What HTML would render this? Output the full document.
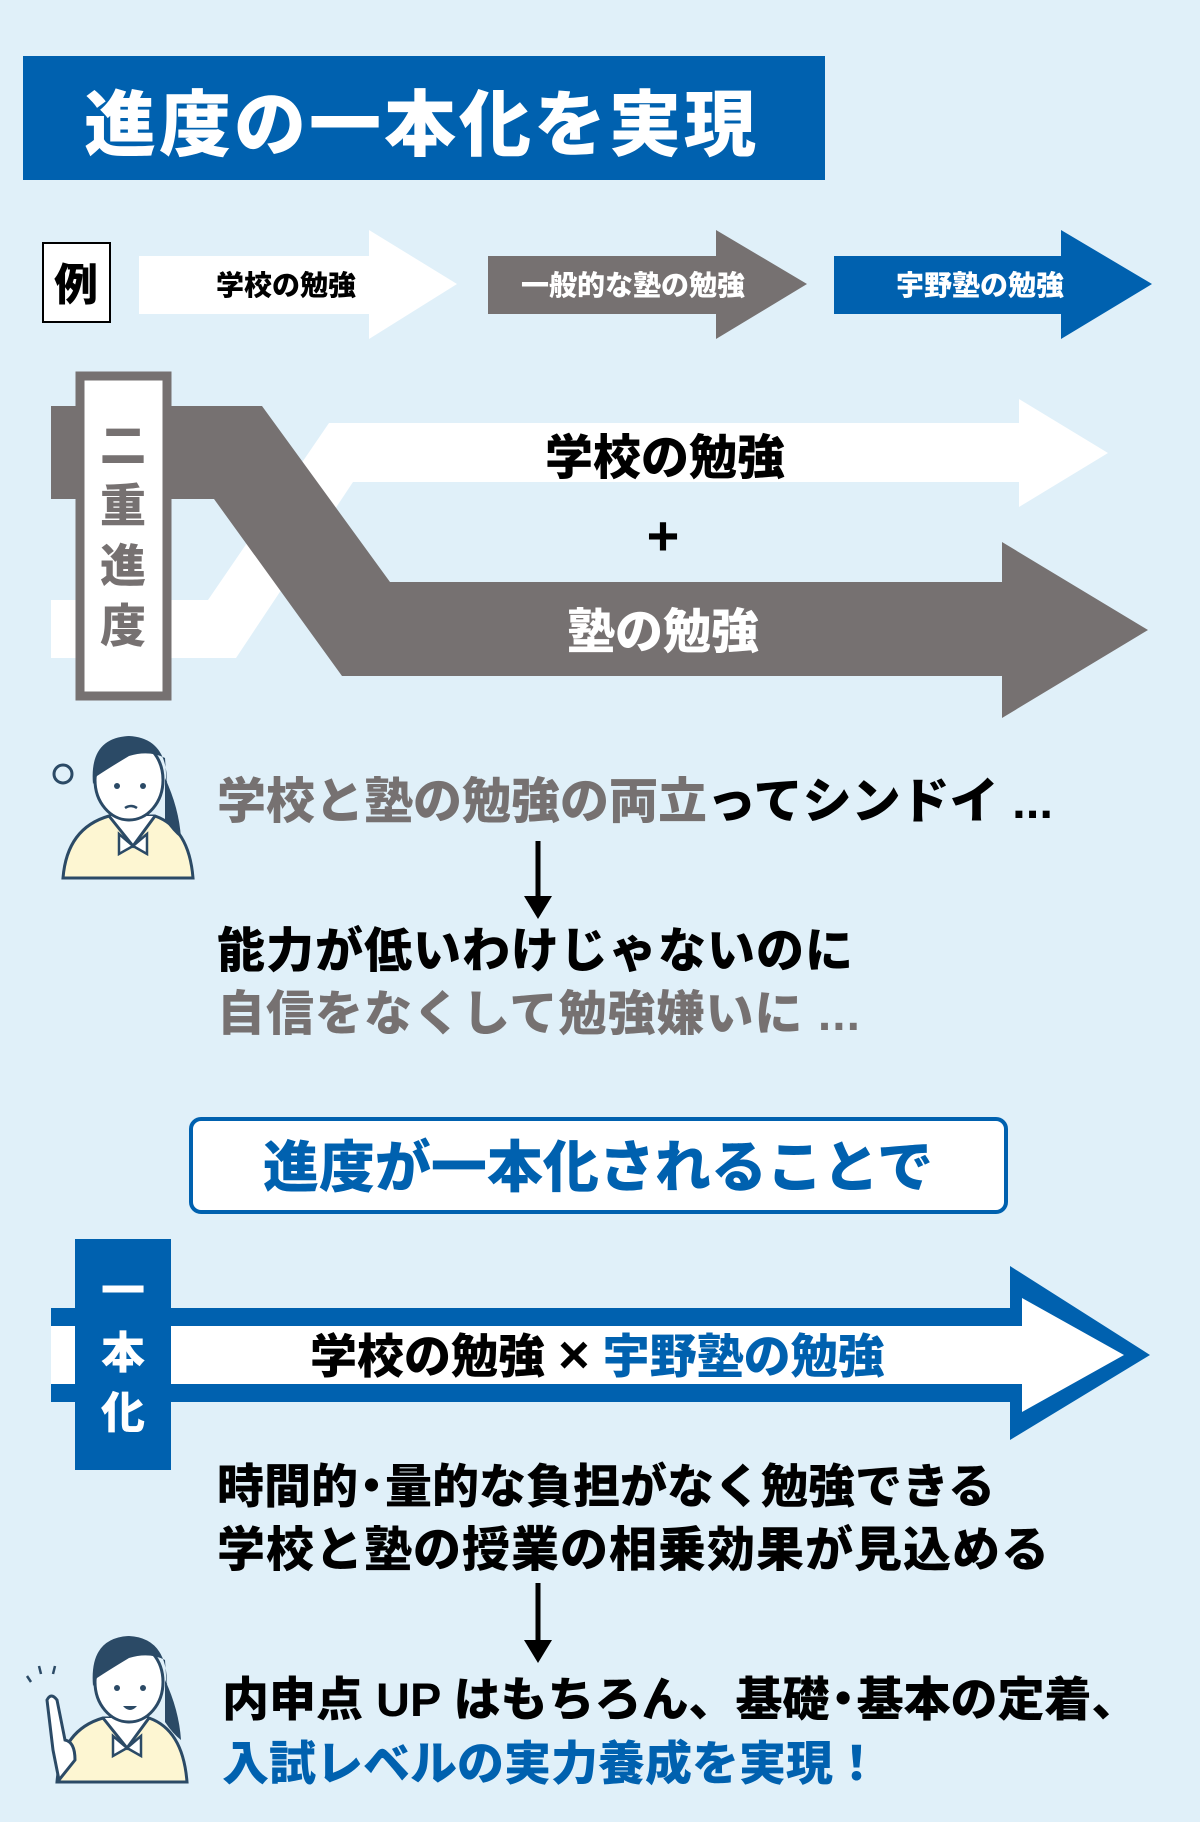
<!DOCTYPE html>
<html><head><meta charset="utf-8"><style>
html,body{margin:0;padding:0;background:#E0F0F9;}
svg{display:block}
text{font-family:"Liberation Sans","Noto Sans CJK JP",sans-serif;font-weight:900;}
</style></head><body>
<svg width="1200" height="1822" viewBox="0 0 1200 1822" xmlns="http://www.w3.org/2000/svg">
<rect width="1200" height="1822" fill="#E0F0F9"/>
<!-- title -->
<rect x="23" y="56" width="802" height="124" fill="#0061AF"/>
<text x="84" y="150" font-size="72" fill="#fff" letter-spacing="3">進度の一本化を実現</text>
<!-- example -->
<rect x="43" y="243" width="67" height="79" fill="#fff" stroke="#000" stroke-width="2"/>
<text x="76" y="300" font-size="44" text-anchor="middle" fill="#000">例</text>
<polygon points="139,256 369,256 369,230 457,284 369,339 369,314 139,314" fill="#fff"/>
<text x="286" y="295" font-size="28" text-anchor="middle" fill="#000">学校の勉強</text>
<polygon points="488,256 716,256 716,230 807,284 716,339 716,314 488,314" fill="#767171"/>
<text x="633" y="295" font-size="28" text-anchor="middle" fill="#fff">一般的な塾の勉強</text>
<polygon points="834,256 1061,256 1061,230 1152,284 1061,339 1061,314 834,314" fill="#0061AF"/>
<text x="980" y="295" font-size="28" text-anchor="middle" fill="#fff">宇野塾の勉強</text>
<!-- double progress -->
<polygon points="51,600 208,600 329,423 1019,423 1019,399 1108,453 1019,507 1019,482 353,482 236,658 51,658" fill="#fff"/>
<polygon points="51,406 262,406 390,582 1002,582 1002,542 1148,630 1002,718 1002,676 342,676 214,499 51,499" fill="#767171"/>
<text x="665" y="474" font-size="48" text-anchor="middle" fill="#000">学校の勉強</text>
<text x="663" y="555" font-size="56" text-anchor="middle" fill="#000">+</text>
<text x="663" y="648" font-size="48" text-anchor="middle" fill="#fff">塾の勉強</text>
<rect x="80" y="376" width="87" height="320" fill="#fff" stroke="#767171" stroke-width="9"/>
<g font-size="46" fill="#767171" text-anchor="middle">
<text x="123" y="462">二</text><text x="123" y="522">重</text><text x="123" y="582">進</text><text x="123" y="642">度</text>
</g>
<!-- girl 1 -->
<g transform="translate(49,728)">
<path d="M14 150 Q18 100 60 88 L106 88 Q140 100 144 150 Z" fill="#FDF6D2" stroke="#2B4A66" stroke-width="3"/>
<path d="M60 88 L84 118 L106 88" fill="#fff" stroke="#2B4A66" stroke-width="3"/>
<path d="M70 106 L84 118 L98 106 L98 126 L84 118 L70 126Z" fill="#fff" stroke="#2B4A66" stroke-width="2.5"/>
<ellipse cx="80" cy="52" rx="34" ry="40" fill="#fff" stroke="#2B4A66" stroke-width="3"/>
<path d="M44 56 Q40 10 80 8 Q120 10 118 60 L116 30 Q100 22 80 28 Q60 40 48 48Z" fill="#2B4A66"/>
<path d="M116 50 Q130 80 132 110 Q124 104 116 92Z" fill="#2B4A66"/>
<circle cx="68" cy="58" r="3" fill="#2B4A66"/><circle cx="94" cy="58" r="3" fill="#2B4A66"/>
<path d="M76 80 Q82 76 88 80" stroke="#2B4A66" stroke-width="2.5" fill="none"/>
<circle cx="14" cy="46" r="9" fill="none" stroke="#2B4A66" stroke-width="3"/>
</g>
<text x="217" y="818" font-size="49" fill="#767171">学校と塾の勉強の両立<tspan fill="#000">ってシンドイ ...</tspan></text>
<line x1="538" y1="841" x2="538" y2="900" stroke="#000" stroke-width="5"/>
<polygon points="524,896 552,896 538,919" fill="#000"/>
<text x="217" y="967" font-size="48" fill="#000" letter-spacing="1">能力が低いわけじゃないのに</text>
<text x="217" y="1030" font-size="48" fill="#767171" letter-spacing="1">自信をなくして勉強嫌いに ...</text>
<!-- box -->
<rect x="191" y="1119" width="815" height="93" rx="10" fill="#fff" stroke="#0061AF" stroke-width="4"/>
<text x="598" y="1187" font-size="56" text-anchor="middle" fill="#0061AF">進度が一本化されることで</text>
<!-- unified arrow -->
<polygon points="51,1308 1010,1308 1010,1266 1150,1355 1010,1440 1010,1402 51,1402" fill="#0061AF"/>
<polygon points="51,1326 1022,1326 1022,1298 1124,1355 1022,1412 1022,1384 51,1384" fill="#fff"/>
<rect x="75" y="1239" width="96" height="231" fill="#0061AF"/>
<g font-size="44" fill="#fff" text-anchor="middle">
<text x="123" y="1306">一</text><text x="123" y="1368">本</text><text x="123" y="1428">化</text>
</g>
<text x="310" y="1373" font-size="47" fill="#000">学校の勉強 <tspan font-size="54">×</tspan> <tspan fill="#0061AF">宇野塾の勉強</tspan></text>
<text x="217" y="1503" font-size="47" fill="#000">時間的<tspan dx="-10">・</tspan><tspan dx="-10">量的な負担がなく勉強できる</tspan></text>
<text x="217" y="1566" font-size="48" fill="#000" letter-spacing="1">学校と塾の授業の相乗効果が見込める</text>
<line x1="538" y1="1583" x2="538" y2="1644" stroke="#000" stroke-width="5"/>
<polygon points="524,1640 552,1640 538,1663" fill="#000"/>
<text x="222" y="1716" font-size="47" fill="#000">内申点 UP はもちろん、基礎<tspan dx="-10">・</tspan><tspan dx="-10">基本の定着、</tspan></text>
<text x="222" y="1780" font-size="47" fill="#0061AF">入試レベルの実力養成を実現！</text>
<!-- girl 2 -->
<g transform="translate(45,1630)">
<path d="M12 152 Q16 100 58 88 L104 88 Q138 100 142 152 Z" fill="#FDF6D2" stroke="#2B4A66" stroke-width="3"/>
<path d="M58 88 L82 118 L104 88" fill="#fff" stroke="#2B4A66" stroke-width="3"/>
<path d="M68 106 L82 118 L96 106 L96 126 L82 118 L68 126Z" fill="#fff" stroke="#2B4A66" stroke-width="2.5"/>
<ellipse cx="84" cy="52" rx="34" ry="40" fill="#fff" stroke="#2B4A66" stroke-width="3"/>
<path d="M48 56 Q44 8 84 6 Q124 8 122 60 L120 30 Q104 22 84 28 Q64 40 52 48Z" fill="#2B4A66"/>
<path d="M120 50 Q134 80 136 110 Q128 104 120 92Z" fill="#2B4A66"/>
<circle cx="72" cy="58" r="3" fill="#2B4A66"/><circle cx="98" cy="58" r="3" fill="#2B4A66"/>
<path d="M78 76 Q85 84 92 76Z" fill="#2B4A66"/>
<path d="M8 120 L2 70 Q6 62 12 70 L20 110 Q30 112 30 130 L14 150Z" fill="#fff" stroke="#2B4A66" stroke-width="3"/>
<path d="M-14 52 l-4 -6 M-4 44 l-2 -8 M8 44 l2 -8" stroke="#2B4A66" stroke-width="2.5"/>
</g>
</svg>
</body></html>
